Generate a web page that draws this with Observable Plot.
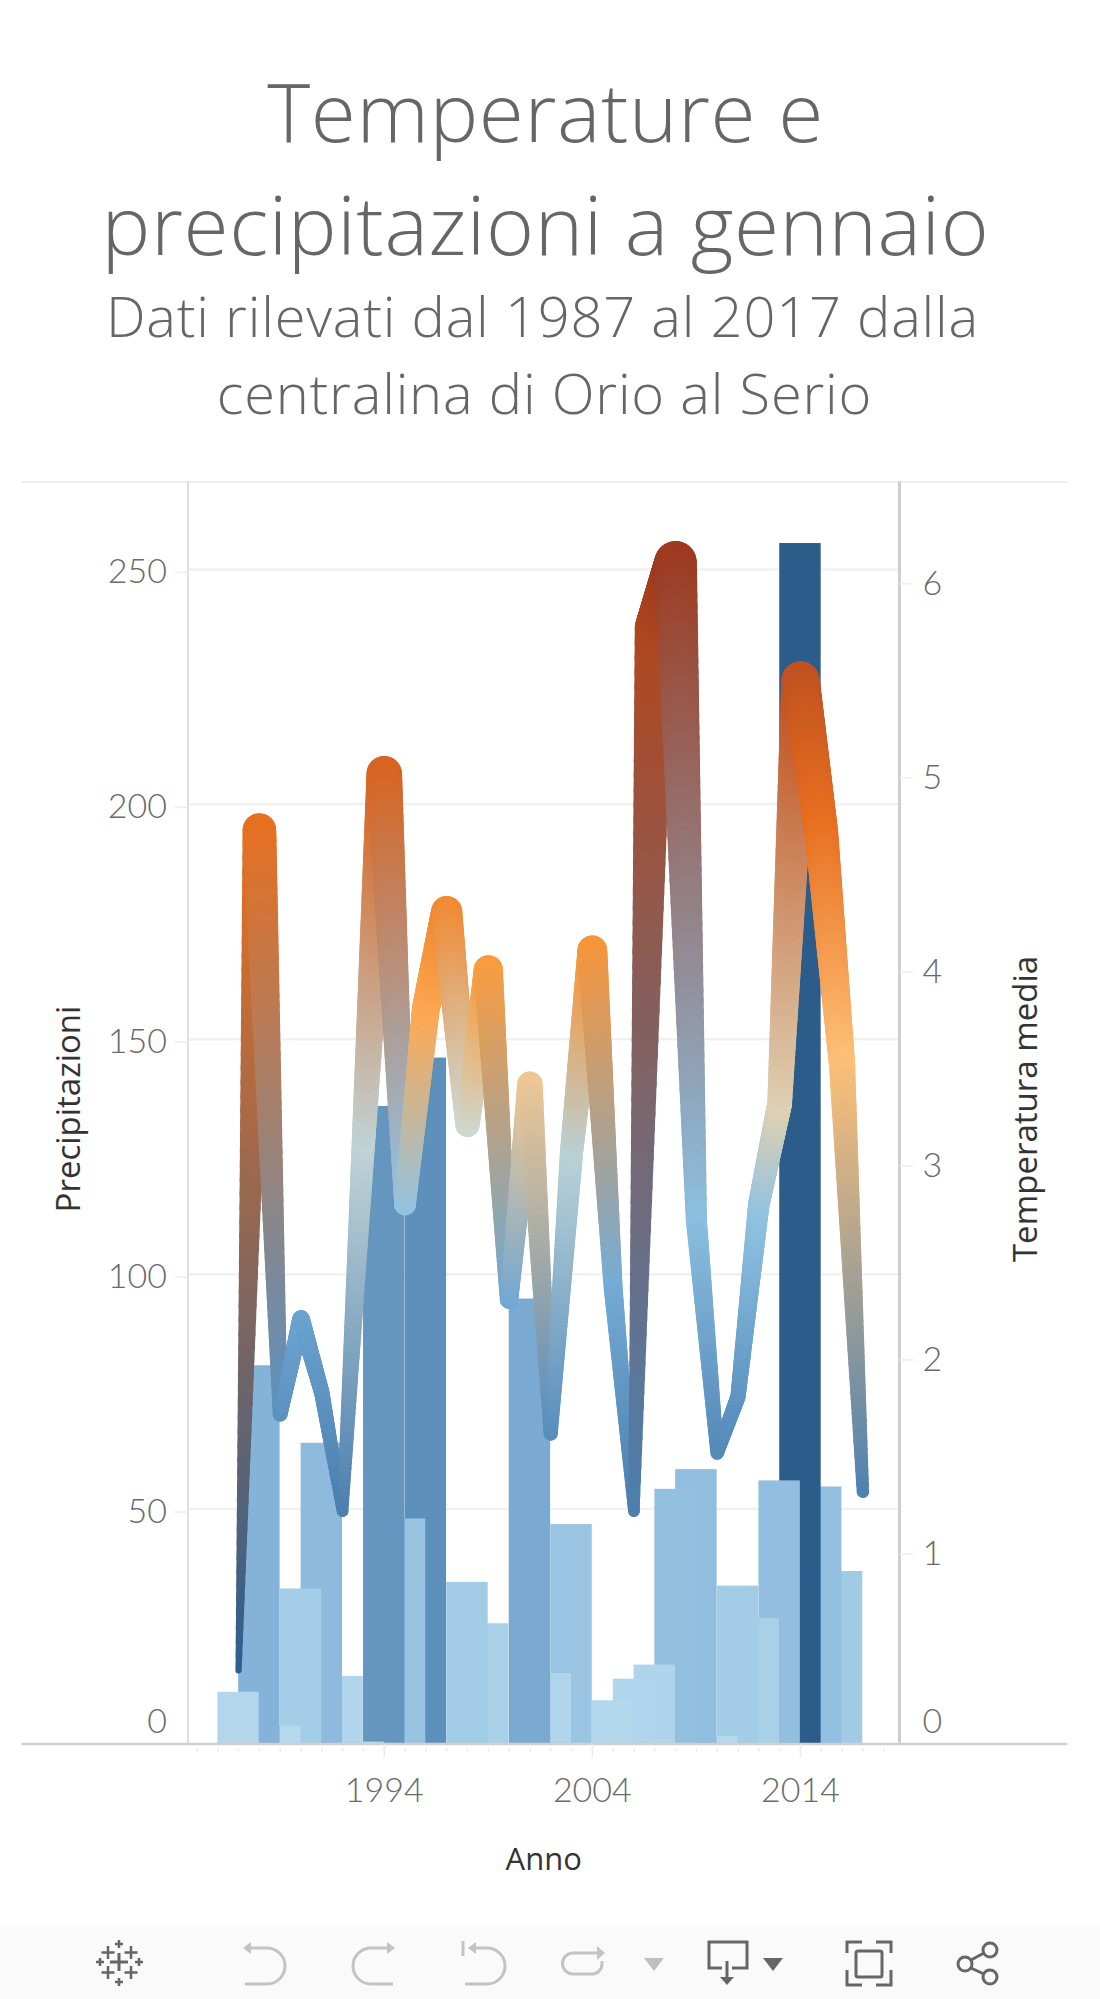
<!DOCTYPE html>
<html lang="it">
<head>
<meta charset="utf-8">
<script src="https://cdn.jsdelivr.net/npm/d3@7"></script>
<script src="https://cdn.jsdelivr.net/npm/@observablehq/plot@0.6"></script>
<style>
  html, body { margin: 0; padding: 0; background: #fff; width: 1100px; height: 1999px; overflow: hidden; }
  body { font-family: "Open Sans", Lato, sans-serif; }
  #head { position: relative; height: 460px; color: #666; text-align: center; font-weight: 300; }
  #head div { position: absolute; left: 0; width: 1091px; white-space: nowrap; }
  .t { font-size: 82px; line-height: 100px; letter-spacing: 0.6px; }
  .s { font-size: 56px; line-height: 70px; letter-spacing: 0.8px; }
  #chart svg { display: block; }
  #bar { height: 74px; background: #fafafa; }
  #bar svg { display: block; }
</style>
</head>
<body>
<div id="head">
  <div class="t" style="top:60px">Temperature e</div>
  <div class="t" style="top:173px">precipitazioni a gennaio</div>
  <div class="s" style="top:280px;left:-3px">Dati rilevati dal 1987 al 2017 dalla</div>
  <div class="s" style="top:357px;left:-1px">centralina di Orio al Serio</div>
</div>
<div id="chart"></div>
<div id="bar">
<svg width="1100" height="74" viewBox="0 0 1100 74" fill="none" stroke-width="3">
  <g stroke="#666" stroke-width="3">
    <path d="M119 28v18M110 37h18" />
    <path d="M108 21v13M101.500 27.500h13M131 21v13M124.500 27.500h13M108 41v13M101.500 47.500h13M131 41v13M124.500 47.500h13" stroke-width="2.500"/>
    <path d="M119 15v8M115 19h8M119 53v8M115 57h8M100 33v8M96 37h8M139 33v8M135 37h8" stroke-width="2.500"/>
  </g>
  <g stroke="#c3c3c3">
    <path d="M251 23H267a18 18 0 0 1 0 36H245"/><path d="M243 23l8-6v12z" fill="#c3c3c3" stroke="none"/>
    <path d="M387 23H371a18 18 0 0 0 0 36H393"/><path d="M395 23l-8-6v12z" fill="#c3c3c3" stroke="none"/>
    <path d="M476 23H487a18 18 0 0 1 0 36H465"/><path d="M468 23l8-6v12z" fill="#c3c3c3" stroke="none"/><path d="M463 16v15"/>
    <path d="M597 28H573a10.500 10.500 0 0 0 0 21H592a10 10 0 0 0 10-10V36"/><path d="M605 28l-8-7v14z" fill="#c3c3c3" stroke="none"/>
  </g>
  <path d="M644 33h20l-10 13z" fill="#bfbfbf"/>
  <path d="M763 33h20l-10 13z" fill="#666"/>
  <g stroke="#666">
    <path d="M722 43H709V17H747V43H732"/><path d="M727 36V52"/><path d="M720 52h14l-7 8z" fill="#666" stroke="none"/>
    <path d="M847 28V17h15M876 17h15v11M891 45v15h-15M862 60h-15V45"/>
    <rect x="856" y="26" width="26" height="26" rx="2"/>
    <circle cx="965" cy="39" r="7"/><circle cx="990" cy="25" r="7"/><circle cx="990" cy="52" r="7"/>
    <path d="M971 35l13-7M971 43l13 6"/>
  </g>
</svg>
</div>
<script>
// Anni
const years = d3.range(1987, 2018);
// Precipitazioni (mm), gennaio
const precipitazioni = [11, 80.5, 3.8, 33, 64, 14.4, 0.4, 135.7, 47.9, 146, 0, 34.4, 25.6, 0, 94.7, 15, 46.7, 0, 9.2, 13.8, 16.8, 54.2, 58.4, 1.6, 33.6, 26.7, 56, 255.5, 54.7, 36.7, 0];
// Temperatura media (gradi), gennaio
const temperatura = [0.38, 4.71, 1.70, 2.19, 1.81, 1.20, 3.10, 5.00, 2.78, 3.79, 4.29, 3.19, 3.99, 2.29, 3.40, 1.60, 3.05, 4.09, 2.35, 1.20, 5.75, 6.09, 2.70, 1.50, 1.79, 2.78, 3.30, 5.48, 4.70, 3.50, 1.30];
// Tick
const precipTicks = [50, 100, 150, 200, 250];
const tempTicks = [1, 2, 3, 4, 5, 6];
const yearLabels = [1994, 2004, 2014];
// Colori
const barDomain = [0, 15, 35, 55, 80, 95, 136, 146, 255];
const barColors = ["#b7d9ee", "#b1d5ec", "#a2cce6", "#93bfe0", "#84b2d9", "#7aaad2", "#6496c0", "#5e90bc", "#2b5c8a"];
const lineDomain = [0.38, 1.2, 2.2, 2.8, 3.2, 3.5, 4, 4.7, 5.5, 6.1];
const lineColors = ["#2f5f8f", "#4c7fae", "#6ba3d0", "#93c4e3", "#cfd8d2", "#fdbf76", "#f99b3d", "#e86f20", "#bf5020", "#9c3a1f"];

const tempUnit = 41.3; // una unità di temperatura sull'asse di destra, in unità di precipitazione
const tempColor = d3.scaleLinear(lineDomain, lineColors).interpolate(d3.interpolateRgb);
const tempWidth = t => 4 + 6.3 * t;

const bars = years.map((year, i) => ({year, p: precipitazioni[i]})).filter(d => d.p > 0).reverse();

// Disegno: ogni tratto tra due anni sfuma di colore e spessore
const steps = 60;
const strokes = [];
for (let i = 0; i < years.length - 1; ++i) {
  const c = d3.interpolateRgb(tempColor(temperatura[i]), tempColor(temperatura[i + 1]));
  for (let k = i ? 1 : 0; k <= steps; ++k) {
    const f = k / steps, t = temperatura[i] * (1 - f) + temperatura[i + 1] * f;
    strokes.push({x: years[i] + f * (years[i + 1] - years[i]), t, c: c(f), w: tempWidth(t)});
  }
}

const yMax = 268.6, xMin = 1984.57, xMax = 2018.76;
const font = "Lato, 'Open Sans', sans-serif";
const tickStyle = {fontSize: 34, fontWeight: 300, fill: "#6a6a6a", label: null};
const titleStyle = {fontFamily: "'Open Sans', Lato, sans-serif", fontSize: 33, fill: "#333", textAnchor: "middle"};

const chart = Plot.plot({
  width: 1100, height: 1465,
  marginTop: 21.5, marginBottom: 181.5, marginLeft: 187.5, marginRight: 201,
  style: {fontFamily: font, background: "transparent", overflow: "visible"},
  x: {domain: [xMin, xMax]},
  y: {domain: [0, yMax]},
  color: {type: "linear", domain: barDomain, range: barColors, interpolate: "rgb"},
  marks: [
    Plot.ruleY(precipTicks, {stroke: "#f1f1f1", strokeWidth: 2.500}),
    Plot.ruleY([yMax], {x1: 1976.6, x2: 2026.85, stroke: "#eeeeee", strokeWidth: 2}),
    Plot.rectY(bars, {x1: d => d.year - 0.995, x2: d => d.year + 0.995, y: "p", fill: "p"}),
    Plot.ruleX([xMin], {stroke: "#d6d6d6", strokeWidth: 1.500}),
    Plot.ruleX([xMax], {stroke: "#cfcfcf", strokeWidth: 3}),
    Plot.ruleY([0], {x1: 1976.6, x2: 2026.85, stroke: "#d0d0d0", strokeWidth: 2.500}),
    Plot.line(strokes, {x: "x", y: d => d.t * tempUnit, stroke: "c", strokeWidth: "w", z: null, strokeLinecap: "round", strokeLinejoin: "round"}),
    Plot.axisY(precipTicks, {anchor: "left", tickSize: 13, tickPadding: 8, dy: 3, stroke: "#f1f1f1", strokeWidth: 2, ...tickStyle}),
    Plot.axisY([0], {anchor: "left", tickSize: 0, tickPadding: 21, dy: -22, ...tickStyle}),
    Plot.axisY(tempTicks.map(t => t * tempUnit), {anchor: "right", tickSize: 13, tickPadding: 10, dy: 4, stroke: "#f1f1f1", strokeWidth: 2, tickFormat: v => Math.round(v / tempUnit), ...tickStyle}),
    Plot.axisY([0], {anchor: "right", tickSize: 0, tickPadding: 23, dy: -22, tickFormat: () => "0", ...tickStyle}),
    Plot.axisX(d3.range(1985, 2019), {anchor: "bottom", tickSize: 3, tickPadding: 99, insetBottom: -5, tickFormat: () => "", stroke: "#e8e8e8", strokeWidth: 1.500, label: null}),
    Plot.axisX(yearLabels, {anchor: "bottom", tickSize: 14, tickPadding: 20, stroke: "#eaeaea", strokeWidth: 1.500, tickFormat: "d", ...tickStyle}),
    Plot.text(["Anno"], {frameAnchor: "bottom", dy: 116.5, ...titleStyle, fontSize: 31, lineAnchor: "middle"}),
    Plot.text(["Precipitazioni"], {frameAnchor: "left", dx: -119, dy: -4, rotate: -90, ...titleStyle}),
    Plot.text(["Temperatura media"], {frameAnchor: "right", dx: 127, dy: -4, rotate: -90, ...titleStyle})
  ]
});
document.getElementById("chart").append(chart);
</script>
</body>
</html>
